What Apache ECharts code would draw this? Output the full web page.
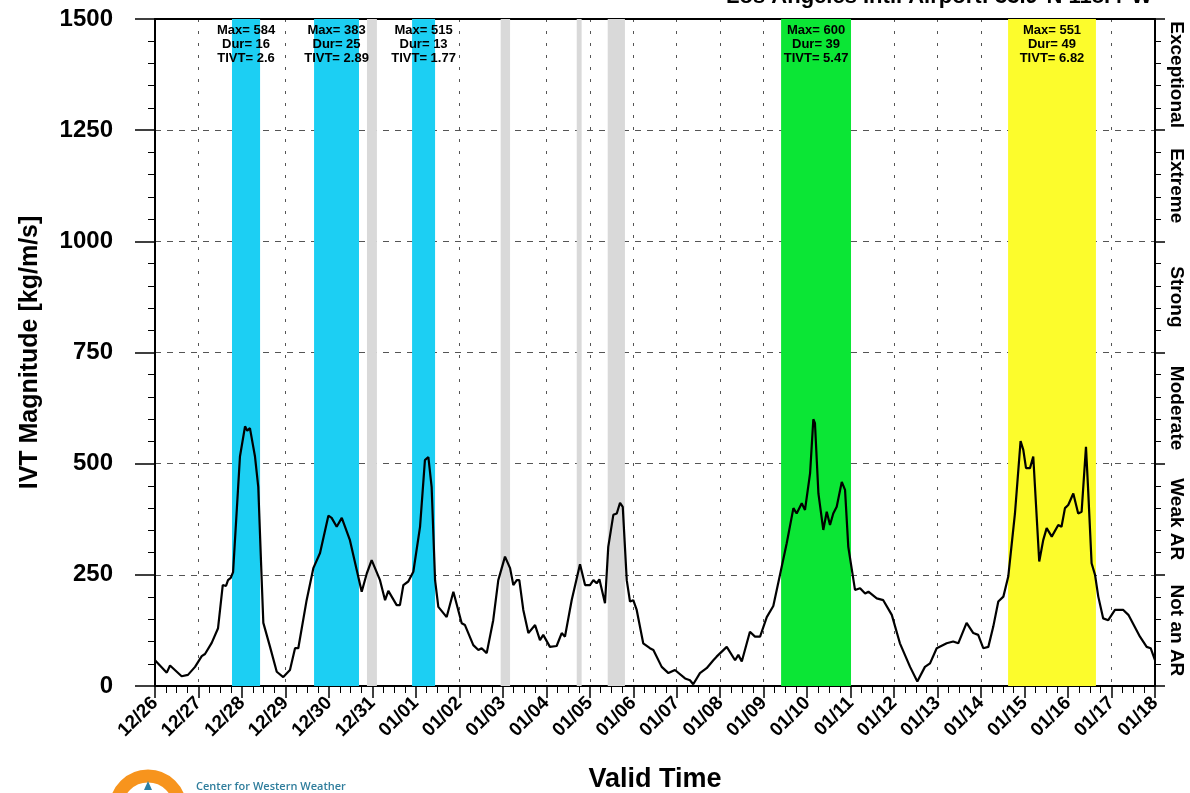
<!DOCTYPE html>
<html><head><meta charset="utf-8">
<script src="https://cdn.jsdelivr.net/npm/echarts@6/dist/echarts.min.js"></script>
<style>html,body{margin:0;padding:0;background:#fff}#c{width:1190px;height:793px}</style>
</head><body><div id="c"></div>
<script>
// hours after 2022-12-26 00Z, IVT [kg/m/s]
const ivtSeries = [
 [0,58],[6.5,30],[8.3,46],[14.7,22],[18.2,25],[22.1,43],[25.8,67],[27.6,72],[31.3,97],[34.8,130],
 [37.4,227],[39.2,225],[40.3,238],[41.8,243],[43.1,256],[46.9,516],[49.7,584],[50.9,574],[52.4,580],[55.2,516],
 [57.0,448],[58.9,238],[59.8,142],[63.5,88],[67.2,32],[70.8,20],[74.5,36],[77.3,85],[79.1,85],[83.7,193],
 [87.4,265],[91.1,299],[95.7,383],[97.5,378],[100.3,358],[103.1,378],[107.6,328],[114.1,212],[116.9,253],[119.6,283],
 [124.2,238],[127.0,193],[128.8,214],[133.4,182],[135.2,182],[137.1,227],[139.8,235],[142.6,257],[146.3,358],[149.0,508],
 [150.9,515],[152.7,448],[154.6,238],[156.4,178],[161.0,155],[164.7,212],[169.3,141],[171.1,137],[175.7,92],[178.5,81],
 [180.3,85],[183.1,74],[186.7,148],[189.5,238],[193.2,291],[196.0,265],[197.8,227],[199.7,238],[201.1,238],[203.3,171],
 [206.1,119],[209.8,137],[212.5,103],[214.3,115],[218.0,88],[221.7,90],[224.5,119],[226.3,111],[230.0,193],[234.6,274],
 [237.4,227],[240.1,227],[242.0,238],[243.8,231],[245.3,240],[248.4,186],[250.2,313],[253.0,385],[254.9,388],[256.7,412],
 [258.2,403],[260.4,238],[262.2,190],[264.0,193],[265.9,171],[269.5,96],[273.2,85],[275.1,81],[279.7,43],[283.4,29],
 [287.0,36],[292.6,17],[295.3,13],[297.1,4],[300.8,29],[304.5,40],[308.2,58],[310.0,66],[315.6,88],[320.2,58],
 [322.0,70],[323.9,55],[328.4,122],[331.2,111],[334.0,111],[337.7,155],[341.3,180],[345.0,250],[348.7,321],[352.4,400],
 [354.2,388],[357.0,411],[358.8,396],[361.6,478],[363.4,600],[364.3,591],[366.2,433],[368.9,351],[370.8,392],[372.6,362],
 [374.4,388],[376.3,403],[379.1,459],[380.9,441],[382.7,313],[386.4,216],[389.2,220],[392.0,208],[393.8,212],[398.4,197],
 [402.0,193],[406.7,160],[411.2,96],[416.8,43],[420.8,10],[425.0,43],[427.8,51],[431.5,85],[437.0,96],[440.6,100],
 [443.4,96],[448.0,142],[451.7,119],[454.4,115],[457.2,85],[460.0,88],[462.7,133],[465.5,190],[468.3,201],[471.0,246],
 [474.7,388],[477.8,551],[479.3,531],[480.8,490],[483.0,490],[484.8,516],[488.1,280],[490.3,328],[492.2,355],[495.0,336],
 [495.8,332],[498.6,362],[500.4,358],[502.3,400],[504.1,407],[506.9,433],[509.6,388],[511.5,392],[513.9,538],[515.1,441],
 [517.0,276],[518.9,250],[520.7,201],[523.4,152],[526.2,148],[529.9,171],[534.5,171],[537.3,160],[543.7,111],[547.4,88],
 [549.6,85],[552,58]
];
// AR events (hours after start)
const arStart = [42.5, 87.8, 141.9, 345.6, 470.9];
const arEnd   = [58.0, 112.6, 154.6, 384.2, 519.4];
const arMax   = [584, 383, 515, 600, 551];
const arDur   = [16, 25, 13, 39, 49];
const arTivt  = ['2.6', '2.89', '1.77', '5.47', '6.82'];
const arRank  = [1, 1, 1, 2, 3];
// non-AR shaded periods
const grayStart = [117.0, 190.8, 232.8, 249.9];
const grayEnd   = [122.5, 196.0, 235.5, 259.4];
const rankLabels = ['Not an AR', 'Weak AR', 'Moderate', 'Strong', 'Extreme', 'Exceptional'];
const rankColors = {1: '#1ccff3', 2: '#0be635', 3: '#fcfc2c'};

const FONT = '"Liberation Sans", Arial, Helvetica, sans-serif';
const startMs = Date.UTC(2022, 11, 26);
function fmtDate(h) {
  const d = new Date(startMs + h * 3600e3);
  const mm = String(d.getUTCMonth() + 1).padStart(2, '0');
  const dd = String(d.getUTCDate()).padStart(2, '0');
  return mm + '/' + dd;
}

const bands = [];
for (let i = 0; i < grayStart.length; i++) {
  bands.push([{xAxis: grayStart[i], itemStyle: {color: '#d9d9d9'}, label: {show: false}}, {xAxis: grayEnd[i]}]);
}
for (let i = 0; i < arStart.length; i++) {
  bands.push([{xAxis: arStart[i], name: 'Max= ' + arMax[i] + '\nDur= ' + arDur[i] + '\nTIVT= ' + arTivt[i],
    itemStyle: {color: rankColors[arRank[i]]}}, {xAxis: arEnd[i]}]);
}

const chart = echarts.init(document.getElementById('c'));
chart.setOption({
  animation: false,
  backgroundColor: '#fff',
  grid: {left: 155, right: 35, top: 19, bottom: 107, outerBoundsMode: 'none', containLabel: false},
  xAxis: [{
    type: 'value', min: 0, max: 552, interval: 24, position: 'bottom',
    axisLine: {show: true, onZero: false, lineStyle: {color: '#000', width: 2}},
    axisTick: {show: true, length: 12, lineStyle: {color: '#000', width: 1.5}},
    minorTick: {show: true, splitNumber: 4, length: 7, lineStyle: {color: '#000', width: 1}},
    axisLabel: {rotate: 45, fontFamily: FONT, fontWeight: 'bold', fontSize: 19, color: '#000', margin: 14, formatter: fmtDate},
    splitLine: {show: true, lineStyle: {color: '#555', type: [3, 9], width: 1}},
    name: 'Valid Time', nameLocation: 'middle', nameGap: 80,
    nameTextStyle: {fontFamily: FONT, fontWeight: 'bold', fontSize: 27, color: '#000'}
  }, {
    type: 'value', min: 0, max: 552, position: 'top',
    axisLine: {show: true, onZero: false, lineStyle: {color: '#000', width: 2}},
    axisTick: {show: false}, axisLabel: {show: false}, splitLine: {show: false}
  }],
  yAxis: [{
    type: 'value', min: 0, max: 1500, interval: 250, position: 'left',
    axisLine: {show: true, onZero: false, lineStyle: {color: '#000', width: 2}},
    axisTick: {show: true, length: 20, lineStyle: {color: '#000', width: 1.5}},
    minorTick: {show: true, splitNumber: 5, length: 7, lineStyle: {color: '#000', width: 1}},
    axisLabel: {fontFamily: FONT, fontWeight: 'bold', fontSize: 24, color: '#000', margin: 42, formatter: v => String(v)},
    splitLine: {show: true, lineStyle: {color: '#555', type: [6, 6], width: 1}},
    name: 'IVT Magnitude [kg/m/s]', nameLocation: 'middle', nameGap: 112,
    nameTextStyle: {fontFamily: FONT, fontWeight: 'bold', fontSize: 25, color: '#000'}
  }, {
    type: 'value', min: 0, max: 1500, interval: 250, position: 'right',
    axisLine: {show: true, onZero: false, lineStyle: {color: '#000', width: 2}},
    axisTick: {show: true, length: 10, lineStyle: {color: '#000', width: 1.5}},
    minorTick: {show: true, splitNumber: 5, length: 6, lineStyle: {color: '#000', width: 1}},
    axisLabel: {show: true, customValues: [125, 375, 625, 875, 1125, 1375], rotate: -90,
      fontFamily: FONT, fontWeight: 'bold', fontSize: 19, color: '#000', margin: 12,
      formatter: v => rankLabels[Math.floor(v / 250)]},
    splitLine: {show: false}
  }],
  series: [{
    type: 'line', z: -1, data: [], silent: true,
    markArea: {
      silent: true,
      label: {show: true, position: 'insideTop', distance: 4, formatter: '{b}',
        fontFamily: FONT, fontWeight: 'bold', fontSize: 13, lineHeight: 14, color: '#000', align: 'center'},
      data: bands
    }
  }, {
    type: 'line', data: ivtSeries, showSymbol: false, symbol: 'none',
    lineStyle: {color: '#000', width: 2.2}, z: 5
  }],
  graphic: [
    {type: 'text', right: 38, top: -14, style: {text: 'Los Angeles Intl. Airport: 33.9°N 118.4°W',
      font: 'bold 22px ' + FONT, fill: '#000'}},
    {type: 'circle', shape: {cx: 148, cy: 808, r: 32}, style: {fill: 'none', stroke: '#f7941d', lineWidth: 13}},
    {type: 'polygon', shape: {points: [[148, 781], [144, 790], [152, 790]]}, style: {fill: '#2c7fa4'}},
    {type: 'text', left: 196, top: 781, style: {text: 'Center for Western Weather',
      font: '600 11px "Open Sans", ' + FONT, fill: '#2f7d9c'}}
  ]
});
</script>
</body></html>
